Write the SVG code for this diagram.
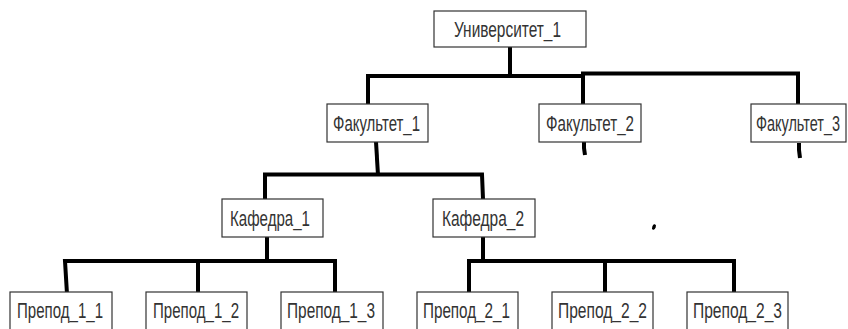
<svg xmlns="http://www.w3.org/2000/svg" width="848" height="329" viewBox="0 0 848 329">
<style>
.box{fill:#fff;stroke:#333;stroke-width:1.2}
.lbl{font-family:"Liberation Sans",Arial,sans-serif;font-size:22px;fill:#333}
.ln{fill:none;stroke:#000;stroke-width:4;stroke-linecap:butt;stroke-linejoin:miter}
</style>
<rect width="848" height="329" fill="#fff"/>
<g id="connectors">
<path class="ln" d="M510,47 V76"/>
<path class="ln" d="M368,104 L368,76 H584"/>
<path class="ln" d="M583,104 V73.5 H798 V104"/>
<path class="ln" d="M584,142 L584,148 L585,155"/>
<path class="ln" d="M799,143 L799,150 L800,158"/>
<path class="ln" d="M376,142 L378,175"/>
<path class="ln" d="M265,199 V174.5 H482 L483,199"/>
<path class="ln" d="M267,237 V261"/>
<path class="ln" d="M67,294 L65,261 H335 V294"/>
<path class="ln" d="M198,261 V294"/>
<path class="ln" d="M483,237 V261"/>
<path class="ln" d="M469,294 V261 H734 V294"/>
<path class="ln" d="M605,261 V294"/>
<ellipse cx="654" cy="227" rx="1.8" ry="2.8" transform="rotate(20 654 227)" fill="#000"/>
</g>
<g id="univ1"><rect class="box" x="434" y="11" width="152" height="36"/><text class="lbl" x="454" y="37" textLength="107" lengthAdjust="spacingAndGlyphs">Университет_1</text></g>
<g id="fak1"><rect class="box" x="327" y="104" width="101" height="38"/><text class="lbl" x="333" y="131" textLength="87" lengthAdjust="spacingAndGlyphs">Факультет_1</text></g>
<g id="fak2"><rect class="box" x="539" y="104" width="102" height="38"/><text class="lbl" x="546" y="131" textLength="88" lengthAdjust="spacingAndGlyphs">Факультет_2</text></g>
<g id="fak3"><rect class="box" x="751" y="104" width="95" height="38"/><text class="lbl" transform="translate(756,131) scale(0.7,1)" x="0" y="0" textLength="120" lengthAdjust="spacingAndGlyphs">Факультет_3</text></g>
<g id="kaf1"><rect class="box" x="222" y="199" width="101" height="38"/><text class="lbl" x="230" y="226" textLength="80" lengthAdjust="spacingAndGlyphs">Кафедра_1</text></g>
<g id="kaf2"><rect class="box" x="433" y="199" width="102" height="38"/><text class="lbl" x="442" y="226" textLength="82" lengthAdjust="spacingAndGlyphs">Кафедра_2</text></g>
<g id="prep11"><rect class="box" x="10" y="292" width="102" height="40"/><text class="lbl" x="17" y="318" textLength="86" lengthAdjust="spacingAndGlyphs">Препод_1_1</text></g>
<g id="prep12"><rect class="box" x="146" y="292" width="101" height="40"/><text class="lbl" x="153" y="318" textLength="86" lengthAdjust="spacingAndGlyphs">Препод_1_2</text></g>
<g id="prep13"><rect class="box" x="281" y="292" width="102" height="40"/><text class="lbl" x="287" y="318" textLength="88" lengthAdjust="spacingAndGlyphs">Препод_1_3</text></g>
<g id="prep21"><rect class="box" x="417" y="292" width="101" height="40"/><text class="lbl" x="423" y="318" textLength="87" lengthAdjust="spacingAndGlyphs">Препод_2_1</text></g>
<g id="prep22"><rect class="box" x="552" y="292" width="101" height="40"/><text class="lbl" x="558" y="318" textLength="89" lengthAdjust="spacingAndGlyphs">Препод_2_2</text></g>
<g id="prep23"><rect class="box" x="687" y="292" width="101" height="40"/><text class="lbl" x="693" y="318" textLength="89" lengthAdjust="spacingAndGlyphs">Препод_2_3</text></g>
</svg>
